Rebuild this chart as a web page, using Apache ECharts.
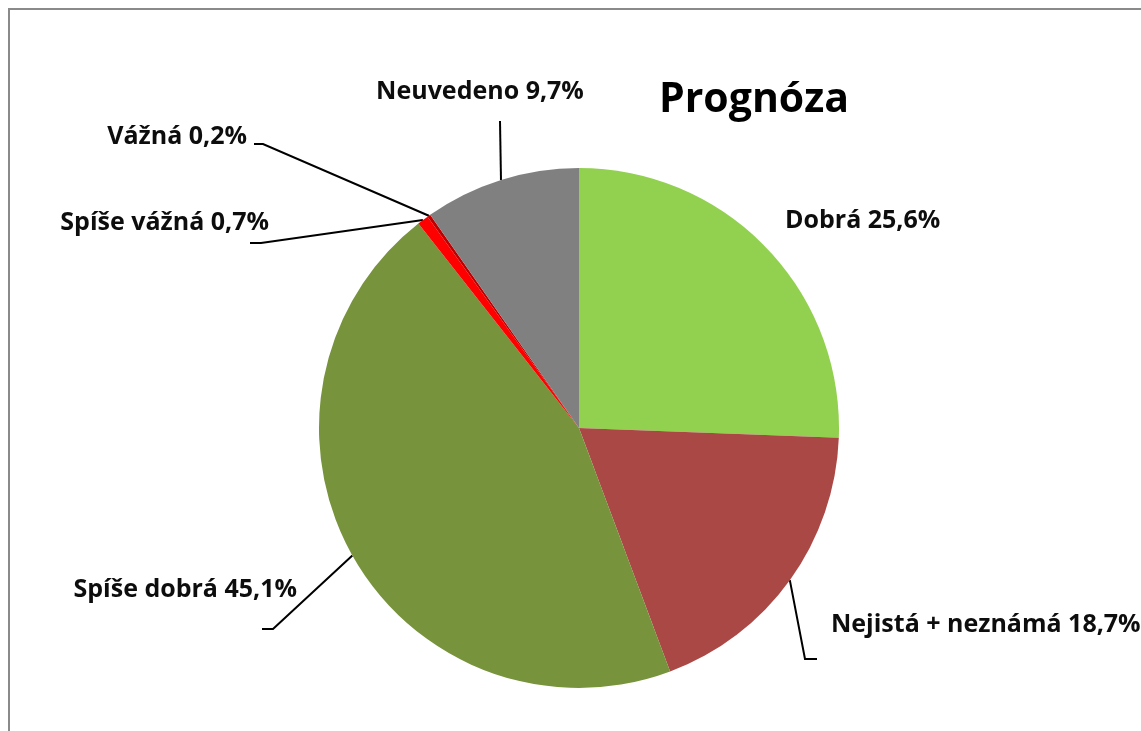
<!DOCTYPE html>
<html>
<head>
<meta charset="utf-8">
<script src="https://cdn.jsdelivr.net/npm/echarts@6/dist/echarts.min.js"></script>
<style>
html,body{margin:0;padding:0;background:#fff;}
#chart{width:1141px;height:731px;}
</style>
</head>
<body>
<div id="chart"></div>
<script>
const categories = ['Dobrá', 'Nejistá + neznámá', 'Spíše dobrá', 'Spíše vážná', 'Vážná', 'Neuvedeno'];
const values = [25.6, 18.7, 45.1, 0.7, 0.2, 9.7];
const colors = ['#92D050', '#AA4845', '#77933C', '#FF0000', '#C00000', '#808080'];
const title = 'Prognóza';

// label placement (layout only)
const labelPlaces = [
  {x: 785, y: 221, align: 'left', line: null},
  {x: 831, y: 625, align: 'left', line: [[805, 659], [817, 659]]},
  {x: 297, y: 590, align: 'right', line: [[273, 629], [262, 629]]},
  {x: 269, y: 223, align: 'right', line: [[261, 243], [250, 243]]},
  {x: 247, y: 137, align: 'right', line: [[263, 144], [254, 144]]},
  {x: 480, y: 92, align: 'center', line: [[500, 121], [500, 121]]}
];

const fmt = v => v.toFixed(1).replace('.', ',') + '%';

const chart = echarts.init(document.getElementById('chart'));
chart.setOption({
  backgroundColor: '#fff',
  animation: false,
  title: {
    text: title,
    left: 749,
    top: 95,
    textAlign: 'center',
    textVerticalAlign: 'middle',
    textStyle: {fontFamily: 'Open Sans', fontWeight: 'bold', fontSize: 41, color: '#000'}
  },
  graphic: [{
    type: 'rect',
    shape: {x: 9, y: 9, width: 1300, height: 900},
    style: {fill: 'none', stroke: '#8a8a8a', lineWidth: 2},
    silent: true,
    z: -1
  }],
  series: [{
    type: 'pie',
    center: [579, 428],
    radius: 260,
    startAngle: 90,
    clockwise: true,
    avoidLabelOverlap: false,
    itemStyle: {borderWidth: 0},
    label: {
      show: true,
      formatter: p => p.name + ' ' + fmt(p.value),
      fontFamily: 'Open Sans',
      fontWeight: 'bold',
      fontSize: 25,
      color: '#0d0d0d'
    },
    labelLine: {show: true, lineStyle: {color: '#000', width: 2}, length: 20, length2: 10},
    labelLayout: function (params) {
      const pl = labelPlaces[params.dataIndex];
      const res = {x: pl.x, y: pl.y, align: pl.align, verticalAlign: 'middle'};
      if (pl.line && params.labelLinePoints) {
        const p0 = params.labelLinePoints[0];
        res.labelLinePoints = [p0, pl.line[0], pl.line[1]];
      }
      return res;
    },
    data: categories.map((c, i) => ({
      name: c,
      value: values[i],
      itemStyle: {color: colors[i]},
      labelLine: {show: labelPlaces[i].line !== null}
    }))
  }]
});
</script>
</body>
</html>
